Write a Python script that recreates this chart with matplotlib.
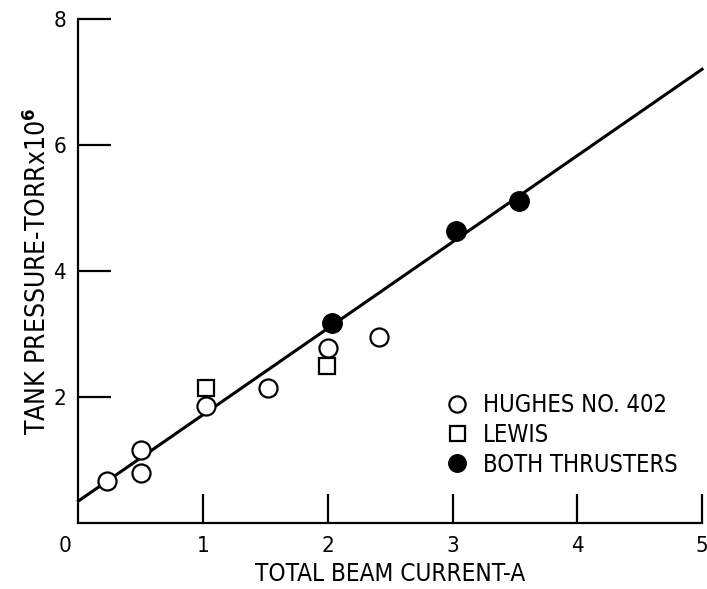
import matplotlib.pyplot as plt
from matplotlib import font_manager

# pick a narrow font if present
names = set(f.name for f in font_manager.fontManager.ttflist)
fam = ['Liberation Sans Narrow'] if 'Liberation Sans Narrow' in names else ['DejaVu Sans']
plt.rcParams['font.family'] = fam + ['DejaVu Sans']
if fam[0] == 'DejaVu Sans':
    plt.rcParams['font.stretch'] = 'condensed'

# data
hughes_x = [0.23, 0.5, 0.5, 1.02, 1.52, 2.0, 2.41]
hughes_y = [0.67, 1.16, 0.79, 1.85, 2.15, 2.78, 2.95]
lewis_x = [1.02, 1.99]
lewis_y = [2.14, 2.49]
both_x = [2.03, 3.03, 3.53]
both_y = [3.17, 4.64, 5.11]
fit_x = [0.0, 5.0]
fit_y = [0.35, 7.2]

fig = plt.figure(figsize=(7.07, 5.89), dpi=100)
ax = fig.add_axes([0.111, 0.112, 0.882, 0.856])

ax.plot(fit_x, fit_y, '-', color='black', lw=2.2, zorder=2, clip_on=False)
ax.plot(hughes_x, hughes_y, 'o', ms=13, mfc='white', mec='black', mew=1.6,
        ls='none', label='HUGHES NO. 402', zorder=3)
ax.plot(lewis_x, lewis_y, 's', ms=12, mfc='white', mec='black', mew=1.6,
        ls='none', label='LEWIS', zorder=3)
ax.plot(both_x, both_y, 'o', ms=14, mfc='black', mec='black',
        ls='none', label='BOTH THRUSTERS', zorder=4)

ax.set_xlim(0, 5)
ax.set_ylim(0, 8)
ax.set_xticks([1, 2, 3, 4, 5])
ax.set_yticks([2, 4, 6, 8])
ax.spines['top'].set_visible(False)
ax.spines['right'].set_visible(False)
ax.spines['left'].set_linewidth(1.6)
ax.spines['bottom'].set_linewidth(1.6)
ax.tick_params(axis='x', direction='in', length=21, width=1.6, pad=9, labelsize=16)
ax.tick_params(axis='y', direction='in', length=24, width=1.6, pad=9, labelsize=16)
ax.annotate('0', xy=(0, 0), xycoords='data', xytext=(-10, -9),
            textcoords='offset points', ha='center', va='top', fontsize=16)

ax.set_xlabel('TOTAL BEAM CURRENT-A', fontsize=17.5, labelpad=5)
ax.set_ylabel(r'TANK PRESSURE-TORRx10$^{\mathbf{6}}$', fontsize=19, labelpad=1)

ax.legend(loc='lower right', bbox_to_anchor=(0.995, 0.05), frameon=False,
          fontsize=17, handletextpad=0.6, labelspacing=0.25, handlelength=1.0,
          markerscale=0.9)

fig.savefig('out.png', dpi=100)
